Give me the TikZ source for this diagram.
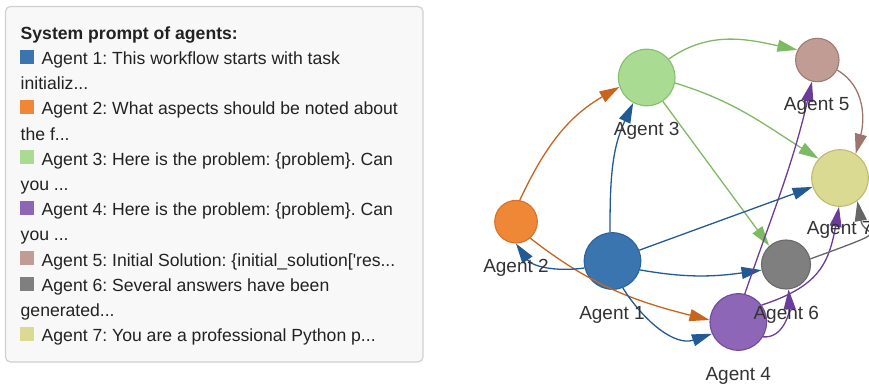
\documentclass[tikz,border=0pt]{standalone}
\usepackage{fontspec}
\setmainfont{Liberation Sans}
\frenchspacing
\usetikzlibrary{arrows.meta}
\definecolor{f1}{HTML}{3B75AF}\definecolor{b1}{HTML}{2E6399}\definecolor{e1}{HTML}{235A94}
\definecolor{f2}{HTML}{EE8836}\definecolor{b2}{HTML}{D9712A}\definecolor{e2}{HTML}{C8641E}
\definecolor{f3}{HTML}{A9DC92}\definecolor{b3}{HTML}{84C06C}\definecolor{e3}{HTML}{7DBA63}
\definecolor{f4}{HTML}{8E66B8}\definecolor{b4}{HTML}{6F4A9C}\definecolor{e4}{HTML}{6A3D9A}
\definecolor{f5}{HTML}{C09C95}\definecolor{b5}{HTML}{A07A72}\definecolor{e5}{HTML}{9C766D}
\definecolor{f6}{HTML}{7F7F7F}\definecolor{b6}{HTML}{6A6A6A}\definecolor{e6}{HTML}{666666}
\definecolor{f7}{HTML}{DBDA92}\definecolor{b7}{HTML}{BDBC6E}
\definecolor{labc}{HTML}{333333}
\definecolor{legc}{HTML}{222222}
\definecolor{legbg}{HTML}{F8F8F8}
\definecolor{legbd}{HTML}{D0D0D0}
\begin{document}
\begin{tikzpicture}[x=1pt,y=-1pt,
  agent/.style={circle, inner sep=0pt, line width=1.1pt},
  lbl/.style={font=\fontsize{19}{19}\selectfont, text=labc, anchor=base, inner sep=0pt},
  lg/.style={font=\fontsize{17.6}{20}\selectfont, text=legc, anchor=base west, inner sep=0pt},
  sq/.style={minimum size=14pt, inner sep=0pt, anchor=north west},
  ed/.style={line width=1.3pt, -{Triangle[length=20pt,width=12pt]}},
]
\useasboundingbox (0,0) rectangle (869,387);
\clip (0,0) rectangle (869,387);
% legend
\draw[rounded corners=5pt, fill=legbg, draw=legbd, line width=1.2pt] (5.5,6.5) rectangle (423,362);
\node[lg, font=\fontsize{17.6}{20}\selectfont\bfseries] (t0) at (20.5,39.3) {System prompt of agents:};
\node[sq, fill=f1] (s1) at (20,49.5) {};
\node[lg] (t1) at (41.5,64.5) {Agent 1: This workflow starts with task};
\node[lg] (t2) at (20.5,89.7) {initializ...};
\node[sq, fill=f2] (s2) at (20,100) {};
\node[lg] (t3) at (41.5,114.9) {Agent 2: What aspects should be noted about};
\node[lg] (t4) at (20.5,140.1) {the f...};
\node[sq, fill=f3] (s3) at (20,150.3) {};
\node[lg] (t5) at (41.5,165.3) {Agent 3: Here is the problem: \{problem\}. Can};
\node[lg] (t6) at (20.5,190.5) {you ...};
\node[sq, fill=f4] (s4) at (20,200.7) {};
\node[lg] (t7) at (41.5,215.7) {Agent 4: Here is the problem: \{problem\}. Can};
\node[lg] (t8) at (20.5,240.9) {you ...};
\node[sq, fill=f5] (s5) at (20,251.1) {};
\node[lg] (t9) at (41.5,266.1) {Agent 5: Initial Solution: \{initial\_solution[\textquotesingle res...};
\node[sq, fill=f6] (s6) at (20,276.3) {};
\node[lg] (t10) at (41.5,291.3) {Agent 6: Several answers have been};
\node[lg] (t11) at (20.5,316.5) {generated...};
\node[sq, fill=f7] (s7) at (20,326.7) {};
\node[lg] (t12) at (41.5,341.7) {Agent 7: You are a professional Python p...};
% agents
\node[agent, fill=f1, draw=b1, minimum size=56.6pt] (a1) at (612.5,261) {};
\node[agent, fill=f2, draw=b2, minimum size=42.6pt] (a2) at (516,221.7) {};
\node[agent, fill=f3, draw=b3, minimum size=56.6pt] (a3) at (646.7,77.5) {};
\node[agent, fill=f4, draw=b4, minimum size=56.6pt] (a4) at (738.3,322) {};
\node[agent, fill=f5, draw=b5, minimum size=43.4pt] (a5) at (817.3,60) {};
\node[agent, fill=f6, draw=b6, minimum size=49pt] (a6) at (786,264.5) {};
\node[agent, fill=f7, draw=b7, minimum size=56.6pt] (a7) at (840,178) {};
% edges
\draw[ed, e3] (a3.40) to[out=35,in=168] (a5.153);
\draw[ed, e3] (a3.-11) to[out=-17,in=148] (a7.138);
\draw[ed, e3] (a3.-56) -- (a6.132);
\draw[ed, e5] (a5.-27) to[out=-30,in=75] (a7.57);
\draw[ed, e2] (a2.80) to[out=65,in=-150] (a3.199);
\draw[ed, e2] (a2.-49) to[out=-38,in=166] (a4.176);
\draw[ed, e1] (a1.95) to[out=90,in=-115] (a3.-118);
\draw[ed, e1] (a1.-166) to[out=188,in=-55] (a2.-90);
\draw[ed, e1] (a1.22) -- (a7.-162);
\draw[ed, e1] (a1.-18) to[out=-10,in=188] (a6.193);
\draw[ed, e1] (a1.-69) to[out=-58,in=199] (a4.204);
\draw[ed, e4] (a4.77) to[out=71,in=-103] (a5.-104);
\draw[ed, e4] (a4.36) to[out=18,in=-100,looseness=1.2] (a7.-92);
\draw[ed, e4] (a4.-31) to[out=-5,in=-87] (a6.-84);
\draw[ed, e6] (a6.13) .. controls +(20:95pt) and +(-80:38pt) .. (a7.-53);
% labels
\node[lbl] (l1) at (612,319.3) {Agent 1};
\node[lbl] (l2) at (516,272.7) {Agent 2};
\node[lbl] (l3) at (646.7,136) {Agent 3};
\node[lbl] (l4) at (738.3,380) {Agent 4};
\node[lbl] (l5) at (816.7,111) {Agent 5};
\node[lbl] (l6) at (786.3,319.3) {Agent 6};
\node[lbl] (l7) at (839.7,235) {Agent 7};
\end{tikzpicture}
\end{document}
